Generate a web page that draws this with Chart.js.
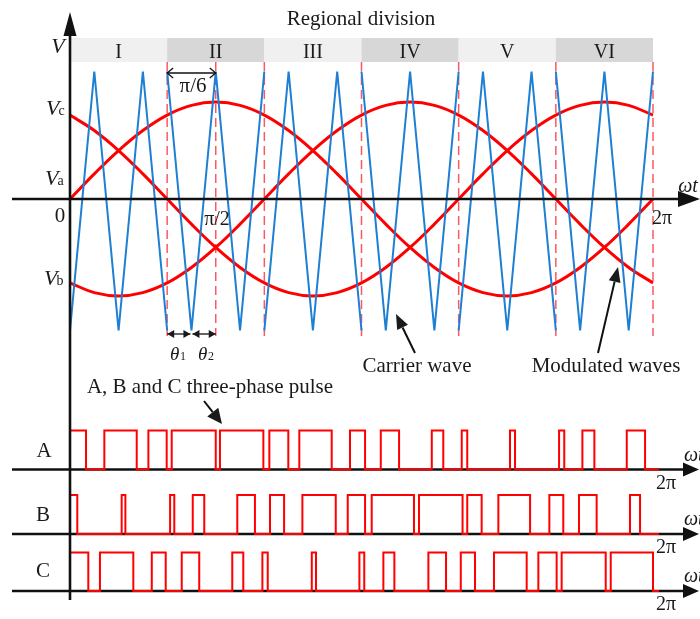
<!DOCTYPE html>
<html><head><meta charset="utf-8">
<script src="https://cdn.jsdelivr.net/npm/chart.js@4.4.0/dist/chart.umd.min.js"></script>
<style>html,body{margin:0;padding:0;background:#fff;overflow:hidden}#wrap{width:700px;height:619px;position:relative}</style>
</head><body><div id="wrap"><canvas id="c" width="700" height="619"></canvas></div>
<script>
// ---------- data (angles in degrees of ωt) ----------
const regions = ['I', 'II', 'III', 'IV', 'V', 'VI'];
const regionEdges = [0, 60, 120, 180, 240, 300, 360];
const dashedAt = [60, 90, 120, 180, 240, 300, 360];

const carrierX = [0,15,30,45,60, 60,75,90,105,120, 120,135,150,165,180,
                  180,195,210,225,240, 240,255,270,285,300, 300,315,330,345,360];
const carrierV = [-1.03,1,-1.03,1,-1.03, 1,-1.03,1,-1.03,1, -1.03,1,-1.03,1,-1.03,
                  1,-1.03,1,-1.03,1, -1.03,1,-1.03,1,-1.03, 1,-1.03,1,-1.03,1];

const sineX = [0,15,30,45,60,75,90,105,120,135,150,165,180,195,210,225,240,255,270,285,300,315,330,345,360];
const vaVals = [0,0.197,0.38,0.537,0.658,0.734,0.76,0.734,0.658,0.537,0.38,0.197,0,
                -0.197,-0.38,-0.537,-0.658,-0.734,-0.76,-0.734,-0.658,-0.537,-0.38,-0.197,0];
const vbVals = [-0.658,-0.734,-0.76,-0.734,-0.658,-0.537,-0.38,-0.197,0,0.197,0.38,0.537,0.658,
                0.734,0.76,0.734,0.658,0.537,0.38,0.197,0,-0.197,-0.38,-0.537,-0.658];
const vcVals = [0.658,0.537,0.38,0.197,0,-0.197,-0.38,-0.537,-0.658,-0.734,-0.76,-0.734,-0.658,
                -0.537,-0.38,-0.197,0,0.197,0.38,0.537,0.658,0.734,0.76,0.734,0.658];

// high intervals [start, end] of each phase pulse
const pulseA = [[0,9.9],[21.2,41.2],[48.4,59.7],[62.8,90.0],[92.6,119.4],[123.1,134.8],[141.6,161.6],
                [172.9,182.2],[191.9,203.2],[223.4,230.5],[241.9,245.3],[271.7,274.8],[302.0,305.2],
                [316.4,323.8],[343.8,355.1]];
const pulseB = [[0,4.5],[31.9,34.2],[61.8,64.4],[75.8,82.9],[103.3,114.2],[123.5,132.2],[143.5,164.1],
                [171.5,182.2],[186.3,212.4],[215.5,242.4],[245.3,254.2],[264.5,284.1],[296.0,304.6],
                [314.3,325.2],[345.8,352.0]];
const pulseC = [[0,11.3],[18.5,39.1],[50.5,59.1],[69.0,79.8],[100.2,107.0],[118.8,122.1],[149.3,151.9],
                [178.7,181.7],[193.5,200.3],[221.3,232.2],[241.3,250.1],[261.8,282.0],[289.2,300.5],
                [303.6,330.8],[333.9,360]];
const pulseEnd = 363.7;

// ---------- layout helpers ----------
const W = 700, H = 619;
const X0 = 70, XU = 583 / 360;           // px of 0 and px per degree
function yRange(zeroPx, unitPx) { return { min: (zeroPx - H) / unitPx, max: zeroPx / unitPx }; }
const yV = yRange(199, 127.5);
const yA = yRange(469.5, 39);
const yB = yRange(534, 39);
const yC = yRange(591, 38.5);

function pts(xs, ys) {
  const out = [];
  for (let i = 0; i < xs.length; i++) {
    if (i > 0 && xs[i] === xs[i - 1]) out.push({ x: xs[i], y: null });
    out.push({ x: xs[i], y: ys[i] });
  }
  return out;
}
function steps(iv) {
  const out = [];
  iv.forEach(([s, e]) => { out.push({x:s,y:0},{x:s,y:1},{x:e,y:1},{x:e,y:0}); });
  out.push({ x: pulseEnd, y: 0 });
  return out;
}

const SERIF = '"Liberation Serif","DejaVu Serif",serif';
function font(sz, st) { return (st || '') + ' ' + sz + 'px ' + SERIF; }
function txt(ctx, s, x, y, f, align) {
  ctx.font = f; ctx.textAlign = align || 'center'; ctx.textBaseline = 'alphabetic';
  ctx.fillStyle = '#1a1a1a'; ctx.fillText(s, x, y);
}
function vlabel(ctx, sub, x, y) {
  txt(ctx, 'V', x, y, font(22, 'italic'), 'left');
  ctx.font = font(22, 'italic');
  const w = ctx.measureText('V').width;
  if (sub) txt(ctx, sub, x + w - 1, y, font(14), 'left');
}
function fillArrow(ctx, x1, y1, x2, y2, len, hw) {
  const a = Math.atan2(y2 - y1, x2 - x1);
  const bx = x2 - len * Math.cos(a), by = y2 - len * Math.sin(a);
  ctx.beginPath(); ctx.moveTo(x1, y1); ctx.lineTo(bx, by); ctx.stroke();
  ctx.beginPath(); ctx.moveTo(x2, y2);
  ctx.lineTo(bx + hw * Math.sin(a), by - hw * Math.cos(a));
  ctx.lineTo(bx - hw * Math.sin(a), by + hw * Math.cos(a));
  ctx.closePath(); ctx.fill();
}
function dbl(ctx, x1, x2, y, filled) {
  ctx.beginPath(); ctx.moveTo(x1, y); ctx.lineTo(x2, y); ctx.stroke();
  if (filled) {
    [[x1, 1], [x2, -1]].forEach(([x, d]) => {
      ctx.beginPath(); ctx.moveTo(x, y); ctx.lineTo(x + d * 7, y - 4); ctx.lineTo(x + d * 7, y + 4); ctx.closePath(); ctx.fill();
    });
  } else {
    [[x1, 1], [x2, -1]].forEach(([x, d]) => {
      ctx.beginPath(); ctx.moveTo(x + d * 6, y - 5); ctx.lineTo(x, y); ctx.lineTo(x + d * 6, y + 5); ctx.stroke();
    });
  }
}

const deco = {
  id: 'deco',
  beforeDatasetsDraw(chart) {
    const ctx = chart.ctx, xs = chart.scales.x;
    ctx.save();
    // region bands
    for (let i = 0; i < regions.length; i++) {
      const a = xs.getPixelForValue(regionEdges[i]), b = xs.getPixelForValue(regionEdges[i + 1]);
      ctx.fillStyle = i % 2 ? '#d7d7d7' : '#f0f0f0';
      ctx.fillRect(a, 38, b - a, 24);
      txt(ctx, regions[i], (a + b) / 2, 58, font(20));
    }
    // dashed lines
    ctx.strokeStyle = 'rgba(250,60,70,0.85)'; ctx.lineWidth = 1.5; ctx.setLineDash([9, 5]);
    dashedAt.forEach(d => {
      const x = xs.getPixelForValue(d);
      ctx.beginPath(); ctx.moveTo(x, 62); ctx.lineTo(x, 336); ctx.stroke();
    });
    ctx.setLineDash([]);
    // pulse axes
    ctx.strokeStyle = '#111'; ctx.fillStyle = '#111'; ctx.lineWidth = 2.5;
    ['yA', 'yB', 'yC'].forEach(id => {
      const y = chart.scales[id].getPixelForValue(0);
      fillArrow(ctx, 12, y, 699, y, 16, 7);
    });
    ctx.restore();
  },
  afterDatasetsDraw(chart) {
    const ctx = chart.ctx, xs = chart.scales.x;
    ctx.save();
    ctx.strokeStyle = '#111'; ctx.fillStyle = '#111'; ctx.lineWidth = 2.6;
    const y0 = chart.scales.yV.getPixelForValue(0);
    fillArrow(ctx, 12, y0, 700, y0, 22, 8);
    fillArrow(ctx, X0, 600, X0, 12, 24, 6.5);
    // labels
    txt(ctx, 'Regional division', 361, 25, font(21));
    txt(ctx, 'V', 58, 53, font(22, 'italic'));
    vlabel(ctx, 'c', 46, 115);
    vlabel(ctx, 'a', 45, 185);
    vlabel(ctx, 'b', 44, 285);
    txt(ctx, '0', 60, 222, font(21));
    txt(ctx, 'π/2', 217, 225, font(20));
    txt(ctx, '2π', 662, 224, font(20));
    txt(ctx, 'ωt', 688, 192, font(20, 'italic'));
    txt(ctx, 'π/6', 193, 92, font(21));
    // theta labels
    txt(ctx, 'θ', 170, 360, font(19, 'italic'), 'left');
    txt(ctx, '1', 180, 360, font(12), 'left');
    txt(ctx, 'θ', 198, 360, font(19, 'italic'), 'left');
    txt(ctx, '2', 208, 360, font(12), 'left');
    txt(ctx, 'Carrier wave', 417, 372, font(21));
    txt(ctx, 'Modulated waves', 606, 372, font(21));
    txt(ctx, 'A, B and C three-phase pulse', 210, 393, font(21));
    txt(ctx, 'A', 44, 457, font(21));
    txt(ctx, 'B', 43, 521, font(21));
    txt(ctx, 'C', 43, 577, font(21));
    ['yA', 'yB', 'yC'].forEach(id => {
      const y = chart.scales[id].getPixelForValue(0);
      txt(ctx, '2π', 666, y + 19, font(20));
      txt(ctx, 'ωt', 684, y - 9, font(20, 'italic'), 'left');
    });
    // arrows
    ctx.lineWidth = 2;
    fillArrow(ctx, 415, 353, 396, 314, 15, 6);
    fillArrow(ctx, 598, 353, 618, 267, 15, 6);
    fillArrow(ctx, 204, 401, 222, 424, 15, 7);
    ctx.lineWidth = 1.3;
    const p = v => xs.getPixelForValue(v);
    dbl(ctx, p(60), p(90), 73, false);
    dbl(ctx, p(60), p(75) - 1, 334, true);
    dbl(ctx, p(75) + 1, p(90), 334, true);
    ctx.restore();
  }
};

const hidden = { display: false };
new Chart(document.getElementById('c'), {
  type: 'line',
  data: {
    datasets: [
      { label: 'Carrier', yAxisID: 'yV', data: pts(carrierX, carrierV), borderColor: '#1f7fd2', borderWidth: 2, tension: 0, spanGaps: false },
      { label: 'Va', yAxisID: 'yV', data: pts(sineX, vaVals), borderColor: '#ff0000', borderWidth: 3, tension: 0.4 },
      { label: 'Vb', yAxisID: 'yV', data: pts(sineX, vbVals), borderColor: '#ff0000', borderWidth: 3, tension: 0.4 },
      { label: 'Vc', yAxisID: 'yV', data: pts(sineX, vcVals), borderColor: '#ff0000', borderWidth: 3, tension: 0.4 },
      { label: 'A', yAxisID: 'yA', data: steps(pulseA), borderColor: '#ff0000', borderWidth: 2, tension: 0 },
      { label: 'B', yAxisID: 'yB', data: steps(pulseB), borderColor: '#ff0000', borderWidth: 2, tension: 0 },
      { label: 'C', yAxisID: 'yC', data: steps(pulseC), borderColor: '#ff0000', borderWidth: 2, tension: 0 }
    ]
  },
  options: {
    responsive: false, animation: false, devicePixelRatio: 1,
    layout: { padding: 0 },
    elements: { point: { radius: 0 } },
    plugins: { legend: hidden, tooltip: { enabled: false }, title: hidden },
    scales: {
      x: { type: 'linear', display: false, min: -X0 / XU, max: (W - X0) / XU },
      yV: { type: 'linear', display: false, min: yV.min, max: yV.max },
      yA: { type: 'linear', display: false, min: yA.min, max: yA.max },
      yB: { type: 'linear', display: false, min: yB.min, max: yB.max },
      yC: { type: 'linear', display: false, min: yC.min, max: yC.max }
    }
  },
  plugins: [deco]
});
</script></body></html>
